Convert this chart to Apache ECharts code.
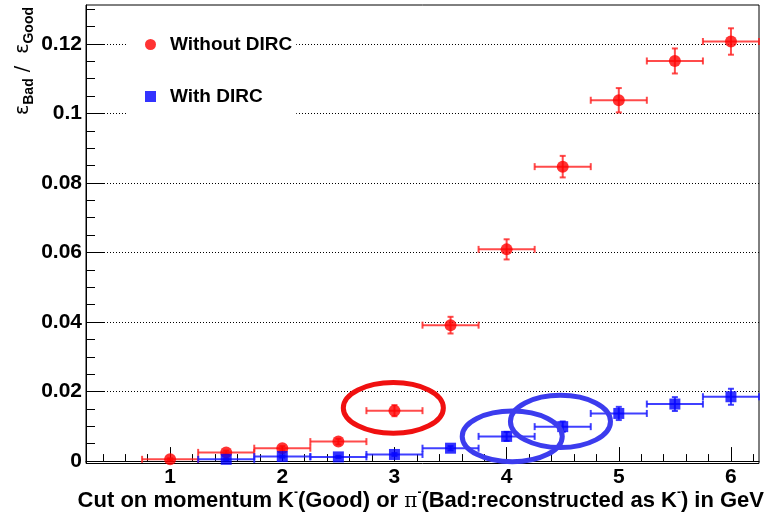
<!DOCTYPE html>
<html>
<head>
<meta charset="utf-8">
<script src="https://cdn.jsdelivr.net/npm/echarts@6/dist/echarts.min.js"></script>
<style>html,body{margin:0;padding:0;background:#fff;}#c{width:768px;height:518px;}</style>
</head>
<body>
<div id="c"></div>
<script>
// ---- data ----
const redX    = [1, 1.5, 2, 2.5, 3, 3.5, 4, 4.5, 5, 5.5, 6];
const redY    = [0.0005, 0.0025, 0.0037, 0.0056, 0.0145, 0.0391, 0.0609, 0.0847, 0.1038, 0.1151, 0.1207];
const redYErr = [0.0003, 0.0005, 0.0006, 0.0008, 0.0016, 0.0024, 0.0029, 0.0031, 0.0035, 0.0036, 0.0038];
const redXErr = [0.25, 0.25, 0.25, 0.25, 0.25, 0.25, 0.25, 0.25, 0.25, 0.25, 0.25];

const blueX    = [1.5, 2, 2.5, 3, 3.5, 4, 4.5, 5, 5.5, 6];
const blueY    = [0.0005, 0.0013, 0.0012, 0.0019, 0.0037, 0.0071, 0.0099, 0.0137, 0.0164, 0.0185];
const blueYErr = [0.0002, 0.0003, 0.0003, 0.0004, 0.0006, 0.0013, 0.0015, 0.0019, 0.0020, 0.0023];
const blueXErr = [0.25, 0.25, 0.25, 0.25, 0.25, 0.25, 0.25, 0.25, 0.25, 0.25];

const xTicks = [1, 2, 3, 4, 5, 6];
const yTicks = [0, 0.02, 0.04, 0.06, 0.08, 0.1, 0.12];
const xMinorTicks = [0.4, 0.6, 0.8, 1.2, 1.4, 1.6, 1.8, 2.2, 2.4, 2.6, 2.8, 3.2, 3.4, 3.6, 3.8,
                     4.2, 4.4, 4.6, 4.8, 5.2, 5.4, 5.6, 5.8, 6.2];
const yMinorTicks = [0.005, 0.01, 0.015, 0.025, 0.03, 0.035, 0.045, 0.05, 0.055, 0.065, 0.07, 0.075,
                     0.085, 0.09, 0.095, 0.105, 0.11, 0.115, 0.125, 0.13];

// highlight ellipses (annotation): centre x, centre y, half-width (x units), half-height (y units)
const ellipseCx = [2.99, 4.05, 4.48];
const ellipseCy = [0.0153, 0.0071, 0.0114];
const ellipseRx = [0.446, 0.446, 0.446];
const ellipseRy = [0.0073, 0.0073, 0.0075];
const ellipseColors = ['#f01010', '#3c3cee', '#3c3cee'];

// ---- build ----
const FONT = 'Liberation Sans';
function rows(xs, ys, exs, eys) { return xs.map((x, i) => [x, ys[i], exs[i], eys[i]]); }

function errRender(color) {
  return function (params, api) {
    const x = api.value(0), y = api.value(1), ex = api.value(2), ey = api.value(3);
    const l = api.coord([x - ex, y]), r = api.coord([x + ex, y]);
    const t = api.coord([x, y + ey]), b = api.coord([x, y - ey]);
    const st = { stroke: color, lineWidth: 2 };
    const cap = 3.5, hcap = 3;
    return {
      type: 'group',
      children: [
        { type: 'line', shape: { x1: l[0], y1: l[1], x2: r[0], y2: r[1] }, style: st },
        { type: 'line', shape: { x1: l[0], y1: l[1] - cap, x2: l[0], y2: l[1] + cap }, style: st },
        { type: 'line', shape: { x1: r[0], y1: r[1] - cap, x2: r[0], y2: r[1] + cap }, style: st },
        { type: 'line', shape: { x1: t[0], y1: t[1], x2: b[0], y2: b[1] }, style: st },
        { type: 'line', shape: { x1: t[0] - hcap, y1: t[1], x2: t[0] + hcap, y2: t[1] }, style: st },
        { type: 'line', shape: { x1: b[0] - hcap, y1: b[1], x2: b[0] + hcap, y2: b[1] }, style: st }
      ]
    };
  };
}

const chart = echarts.init(document.getElementById('c'), null, { renderer: 'canvas' });
const labelStyle = { fontFamily: FONT, fontWeight: 'bold', fontSize: 21, color: '#000' };

chart.setOption({
  animation: false,
  backgroundColor: '#fff',
  grid: { left: 86, right: 9, top: 5, bottom: 54.5, show: true, borderColor: '#000', borderWidth: 1, backgroundColor: 'transparent' },
  legend: {
    orient: 'vertical', left: 127, top: 20, padding: [15, 4, 16, 18], itemGap: 33,
    backgroundColor: '#fff', itemWidth: 11, itemHeight: 11,
    textStyle: { fontFamily: FONT, fontWeight: 'bold', fontSize: 19, color: '#000', padding: [0, 0, 0, 9] },
    data: [{ name: 'Without DIRC', icon: 'circle' }, { name: 'With DIRC', icon: 'rect' }]
  },
  xAxis: [
    {
      type: 'value', min: 0.25, max: 6.25,
      axisLine: { show: true, lineStyle: { color: '#000', width: 1 } },
      axisTick: { show: true, inside: true, length: 14, customValues: xTicks, lineStyle: { color: '#000' } },
      axisLabel: Object.assign({ customValues: xTicks, margin: 3, formatter: v => String(v) }, labelStyle),
      splitLine: { show: false }
    },
    {
      type: 'value', min: 0.25, max: 6.25, position: 'bottom',
      axisLine: { show: false },
      axisTick: { show: true, inside: true, length: 7, customValues: xMinorTicks, lineStyle: { color: '#000' } },
      axisLabel: { show: false }, splitLine: { show: false }
    }
  ],
  yAxis: [
    {
      type: 'value', min: -0.0007, max: 0.1312,
      axisLine: { show: true, lineStyle: { color: '#000', width: 1 } },
      axisTick: { show: true, inside: true, length: 19, customValues: yTicks, lineStyle: { color: '#000' } },
      axisLabel: Object.assign({ customValues: yTicks, margin: 4, formatter: v => String(v) }, labelStyle),
      splitLine: { show: true, lineStyle: { color: '#000', width: 1, type: [1, 2] } }
    },
    {
      type: 'value', min: -0.0007, max: 0.1312, position: 'left',
      axisLine: { show: false },
      axisTick: { show: true, inside: true, length: 9, customValues: yMinorTicks, lineStyle: { color: '#000' } },
      axisLabel: { show: false }, splitLine: { show: false }
    }
  ],
  graphic: [
    {
      type: 'text', x: 23, y: 61, rotation: Math.PI / 2, z: 100,
      style: {
        text: '{e|ε}{s|Bad}{e| /  ε}{s|Good}',
        align: 'center', verticalAlign: 'middle', textAlign: 'center', textVerticalAlign: 'middle',
        fill: '#000',
        rich: {
          e: { fontFamily: 'DejaVu Sans', fontSize: 19, lineHeight: 26, verticalAlign: 'middle', fill: '#000', color: '#000' },
          s: { fontFamily: FONT, fontWeight: 'bold', fontSize: 14, lineHeight: 26, verticalAlign: 'bottom', fill: '#000', color: '#000' }
        }
      }
    },
    {
      type: 'text', right: 4, top: 487, z: 100,
      style: {
        text: '{b|Cut on momentum K}{p|-}{b|(Good) or }{pi|π}{p|-}{b|(Bad:reconstructed as K}{p|-}{b|) in GeV}',
        fill: '#000',
        rich: {
          b: { fontFamily: FONT, fontWeight: 'bold', fontSize: 22, lineHeight: 25, verticalAlign: 'bottom', fill: '#000', color: '#000' },
          p: { fontFamily: FONT, fontWeight: 'bold', fontSize: 12, lineHeight: 25, verticalAlign: 'top', fill: '#000', color: '#000' },
          pi: { fontFamily: 'DejaVu Serif', fontSize: 20, lineHeight: 25, verticalAlign: 'bottom', fill: '#000', color: '#000' }
        }
      }
    }
  ],
  series: [
    {
      name: 'ellipses', type: 'custom', xAxisIndex: 0, yAxisIndex: 0, silent: true, z: 5,
      data: ellipseCx.map((cx, i) => [cx, ellipseCy[i], ellipseRx[i], ellipseRy[i]]),
      encode: { x: 0, y: 1 },
      renderItem: function (params, api) {
        const c = api.coord([api.value(0), api.value(1)]);
        const s = api.size([api.value(2), api.value(3)]);
        return { type: 'ellipse', shape: { cx: c[0], cy: c[1], rx: s[0], ry: s[1] },
                 style: { stroke: ellipseColors[params.dataIndex], fill: null, lineWidth: 5 } };
      }
    },
    {
      name: 'redErr', type: 'custom', xAxisIndex: 0, yAxisIndex: 0, silent: true, z: 3,
      data: rows(redX, redY, redXErr, redYErr), encode: { x: 0, y: 1 },
      renderItem: errRender('rgba(255,30,30,0.8)')
    },
    {
      name: 'blueErr', type: 'custom', xAxisIndex: 0, yAxisIndex: 0, silent: true, z: 3,
      data: rows(blueX, blueY, blueXErr, blueYErr), encode: { x: 0, y: 1 },
      renderItem: errRender('rgba(30,30,255,0.85)')
    },
    {
      name: 'Without DIRC', type: 'scatter', xAxisIndex: 0, yAxisIndex: 0, z: 4,
      symbol: 'circle', symbolSize: 12, itemStyle: { color: '#ff0000' },
      data: redX.map((x, i) => [x, redY[i]])
    },
    {
      name: 'With DIRC', type: 'scatter', xAxisIndex: 0, yAxisIndex: 0, z: 4,
      symbol: 'rect', symbolSize: 11, itemStyle: { color: '#0000ff' },
      data: blueX.map((x, i) => [x, blueY[i]])
    }
  ]
});
</script>
</body>
</html>
